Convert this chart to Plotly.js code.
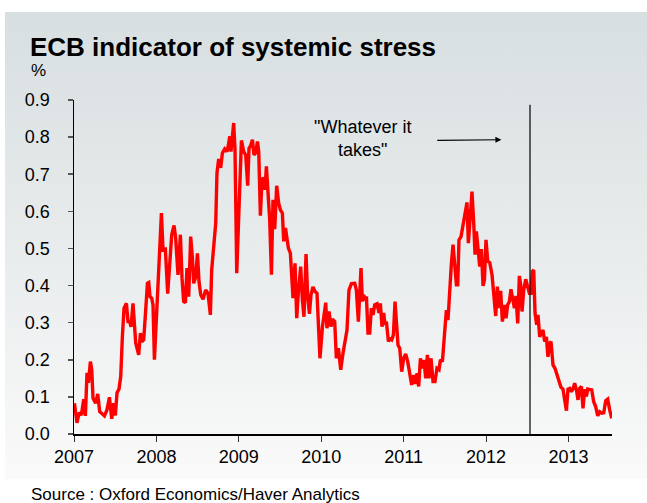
<!DOCTYPE html>
<html>
<head>
<meta charset="utf-8">
<script src="https://cdn.plot.ly/plotly-3.0.1.min.js"></script>
<style>
  html, body { margin: 0; padding: 0; background: #ffffff; }
  #wrap { position: relative; width: 647px; height: 503px; }
  #panel {
    position: absolute; left: 5px; top: 12px; width: 642px; height: 467px;
    background: linear-gradient(to bottom, #d8dfe1 0%, #e6eaeb 45%, #fafafa 100%);
  }
  #chart { position: absolute; left: 0; top: 0; width: 647px; height: 503px; }
</style>
</head>
<body>
<div id="wrap">
  <div id="panel"></div>
  <div id="chart"></div>
</div>
<script>
// Weekly readings of the ECB composite indicator of systemic stress (decimal years)
const dates = [
  2007.005,2007.036,2007.061,2007.090,2007.118,2007.138,2007.158,2007.175,2007.199,2007.215,
  2007.231,2007.263,2007.288,2007.312,2007.345,2007.369,2007.400,2007.430,2007.458,2007.482,
  2007.502,2007.522,2007.546,2007.567,2007.587,2007.607,2007.636,2007.655,2007.676,2007.692,
  2007.716,2007.737,2007.749,2007.785,2007.806,2007.825,2007.846,2007.870,2007.891,2007.907,
  2007.922,2007.943,2007.959,2007.976,
  2008.000,2008.019,2008.040,2008.061,2008.080,2008.109,2008.137,2008.161,2008.186,2008.214,
  2008.234,2008.262,2008.291,2008.311,2008.331,2008.352,2008.371,2008.392,2008.416,2008.437,
  2008.453,2008.477,2008.498,2008.517,2008.538,2008.566,2008.598,2008.626,2008.655,2008.671,
  2008.695,2008.720,2008.735,2008.756,2008.780,2008.801,2008.829,2008.857,2008.874,2008.890,
  2008.905,2008.922,2008.938,2008.954,2008.975,
  2009.002,2009.032,2009.059,2009.084,2009.108,2009.124,2009.144,2009.165,2009.184,2009.205,
  2009.226,2009.242,2009.262,2009.282,2009.302,2009.318,2009.335,2009.354,2009.375,2009.396,
  2009.415,2009.436,2009.460,2009.484,2009.505,2009.529,2009.545,2009.566,2009.585,2009.602,
  2009.626,2009.642,2009.658,2009.682,2009.703,2009.723,2009.751,2009.772,2009.791,2009.816,
  2009.836,2009.857,2009.876,2009.900,2009.925,2009.949,2009.966,2009.985,
  2010.015,2010.055,2010.070,2010.095,2010.119,2010.136,2010.164,2010.184,2010.209,2010.237,
  2010.265,2010.313,2010.337,2010.367,2010.407,2010.427,2010.451,2010.467,2010.483,2010.500,
  2010.516,2010.532,2010.549,2010.568,2010.589,2010.609,2010.629,2010.649,2010.677,2010.701,
  2010.718,2010.738,2010.759,2010.774,2010.791,2010.816,2010.831,2010.856,2010.876,2010.896,
  2010.913,2010.932,2010.953,2010.977,
  2011.001,2011.025,2011.050,2011.074,2011.098,2011.123,2011.143,2011.163,2011.183,2011.204,
  2011.228,2011.248,2011.268,2011.289,2011.308,2011.333,2011.357,2011.381,2011.405,2011.430,
  2011.447,2011.471,2011.499,2011.519,2011.539,2011.559,2011.580,2011.600,2011.620,2011.641,
  2011.657,2011.672,2011.697,2011.721,2011.745,2011.769,2011.786,2011.811,2011.830,2011.851,
  2011.867,2011.883,2011.903,2011.924,2011.944,2011.964,2011.981,
  2012.000,2012.021,2012.045,2012.073,2012.093,2012.118,2012.138,2012.158,2012.178,2012.199,
  2012.223,2012.243,2012.263,2012.284,2012.303,2012.324,2012.345,2012.364,2012.385,2012.405,
  2012.421,2012.437,2012.458,2012.482,2012.506,2012.527,2012.546,2012.563,2012.579,2012.595,
  2012.615,2012.631,2012.652,2012.672,2012.692,2012.712,2012.733,2012.752,2012.773,2012.789,
  2012.813,2012.837,2012.862,2012.886,2012.910,2012.934,2012.955,2012.976,2012.995,
  2013.016,2013.036,2013.056,2013.076,2013.097,2013.117,2013.137,2013.158,2013.177,2013.198,
  2013.218,2013.234,2013.258,2013.283,2013.307,2013.331,2013.356,2013.380,2013.404,2013.429,
  2013.453,2013.477,2013.501,2013.526
];

const stress = [
  0.083,0.030,0.057,0.051,0.094,0.049,0.165,0.138,0.195,0.173,
  0.096,0.083,0.108,0.060,0.054,0.049,0.065,0.099,0.041,0.083,
  0.050,0.111,0.121,0.155,0.262,0.339,0.352,0.303,0.303,0.289,
  0.352,0.285,0.245,0.213,0.272,0.249,0.254,0.334,0.406,0.408,
  0.370,0.366,0.348,0.200,
  0.316,0.433,0.510,0.595,0.496,0.498,0.378,0.460,0.537,0.562,
  0.528,0.429,0.537,0.420,0.357,0.354,0.447,0.370,0.532,0.474,
  0.406,0.423,0.487,0.411,0.375,0.363,0.388,0.379,0.321,0.442,
  0.514,0.568,0.703,0.741,0.717,0.757,0.768,0.761,0.779,0.802,
  0.761,0.806,0.838,0.766,0.433,
  0.604,0.791,0.761,0.752,0.669,0.770,0.777,0.793,0.752,0.757,
  0.788,0.761,0.588,0.690,0.685,0.658,0.721,0.658,0.577,0.429,
  0.631,0.552,0.669,0.622,0.604,0.595,0.519,0.555,0.528,0.501,
  0.487,0.424,0.366,0.460,0.312,0.384,0.451,0.361,0.316,0.485,
  0.370,0.324,0.375,0.396,0.384,0.379,0.307,0.204,
  0.289,0.354,0.285,0.330,0.289,0.309,0.303,0.204,0.231,0.173,
  0.218,0.280,0.388,0.405,0.406,0.388,0.303,0.379,0.447,0.357,
  0.375,0.361,0.370,0.272,0.272,0.339,0.321,0.348,0.351,0.326,
  0.352,0.289,0.326,0.294,0.303,0.249,0.258,0.254,0.267,0.357,
  0.289,0.240,0.231,0.168,
  0.204,0.216,0.195,0.159,0.132,0.159,0.135,0.164,0.128,0.204,
  0.177,0.200,0.150,0.213,0.150,0.204,0.141,0.141,0.177,0.173,
  0.200,0.195,0.262,0.334,0.307,0.397,0.460,0.510,0.450,0.402,
  0.402,0.523,0.532,0.564,0.595,0.624,0.514,0.586,0.653,0.568,
  0.483,0.546,0.496,0.451,0.498,0.399,0.415,
  0.523,0.465,0.462,0.429,0.388,0.318,0.397,0.339,0.386,0.303,
  0.348,0.312,0.348,0.357,0.390,0.357,0.339,0.372,0.298,0.426,
  0.402,0.330,0.388,0.417,0.397,0.379,0.379,0.438,0.442,0.326,
  0.294,0.321,0.262,0.272,0.280,0.249,0.262,0.208,0.245,0.249,
  0.186,0.177,0.159,0.141,0.126,0.121,0.096,0.063,0.121,
  0.123,0.114,0.121,0.137,0.119,0.092,0.123,0.128,0.069,0.121,
  0.101,0.121,0.119,0.119,0.087,0.074,0.049,0.060,0.056,0.057,
  0.090,0.094,0.065,0.042
];

const yearTicks = [2007, 2008, 2009, 2010, 2011, 2012, 2013];
const yearLabels = ['2007', '2008', '2009', '2010', '2011', '2012', '2013'];
const valueTicks = [0, 0.1, 0.2, 0.3, 0.4, 0.5, 0.6, 0.7, 0.8, 0.9];

// Draghi's London speech, 26 July 2012
const speechDate = 2012.534;

const FONT = '"Liberation Sans", Arial, sans-serif';

const trace = {
  x: dates,
  y: stress,
  type: 'scatter',
  mode: 'lines',
  line: { color: '#ff0000', width: 3.4 },
  hoverinfo: 'x+y'
};

const layout = {
  width: 647,
  height: 503,
  margin: { l: 74, r: 35, t: 100, b: 69 },
  paper_bgcolor: 'rgba(0,0,0,0)',
  plot_bgcolor: 'rgba(0,0,0,0)',
  showlegend: false,
  font: { family: FONT, size: 18, color: '#000000' },
  title: {
    text: '<b>ECB indicator of systemic stress</b>',
    font: { family: FONT, size: 26, color: '#000000' },
    xref: 'container', yref: 'container',
    x: 30 / 647, xanchor: 'left',
    y: 1 - 47 / 503, yanchor: 'middle'
  },
  xaxis: {
    range: [2007, 2007 + 538 / 82.4],
    tickmode: 'array',
    tickvals: yearTicks,
    ticktext: yearLabels,
    ticks: 'outside', ticklen: 6, tickwidth: 1, tickcolor: '#333333',
    showline: true, linecolor: '#000000', linewidth: 1.5,
    showgrid: false, zeroline: false,
    tickfont: { family: FONT, size: 18, color: '#000000' }
  },
  yaxis: {
    range: [0, 0.9],
    tickmode: 'array',
    tickvals: valueTicks,
    tickformat: '.1f',
    ticks: 'outside', ticklen: 5, tickwidth: 1.5, tickcolor: '#555555',
    showline: true, linecolor: '#000000', linewidth: 1.5,
    showgrid: false, zeroline: false,
    ticklabelstandoff: 14,
    tickfont: { family: FONT, size: 18, color: '#000000' }
  },
  shapes: [{
    type: 'line', xref: 'x', yref: 'y',
    x0: speechDate, x1: speechDate, y0: 0, y1: 0.887,
    line: { color: '#000000', width: 1.2 }
  }],
  annotations: [
    {
      text: '%', xref: 'paper', yref: 'paper',
      x: (29 - 74) / 538, xanchor: 'left',
      y: (434 - 70) / 334, yanchor: 'middle',
      showarrow: false,
      font: { family: FONT, size: 17, color: '#000000' }
    },
    {
      text: '"Whatever it<br>takes"', xref: 'x', yref: 'y',
      x: 2010.504, y: 0.797, xanchor: 'center', yanchor: 'middle',
      align: 'center', showarrow: false,
      font: { family: FONT, size: 18, color: '#000000' }
    },
    {
      text: '', xref: 'x', yref: 'y', axref: 'x', ayref: 'y',
      x: 2012.187, y: 0.793, ax: 2011.390, ay: 0.791,
      showarrow: true, arrowhead: 2, arrowsize: 1, arrowwidth: 1.2,
      arrowcolor: '#000000', standoff: 0, startstandoff: 0
    },
    {
      text: 'Source : Oxford Economics/Haver Analytics',
      xref: 'paper', yref: 'paper',
      x: (29 - 74) / 538, xanchor: 'left',
      y: (434 - 494) / 334, yanchor: 'middle',
      showarrow: false,
      font: { family: FONT, size: 17, color: '#000000' }
    }
  ]
};

Plotly.newPlot('chart', [trace], layout, { displayModeBar: false, staticPlot: true });
</script>
</body>
</html>
